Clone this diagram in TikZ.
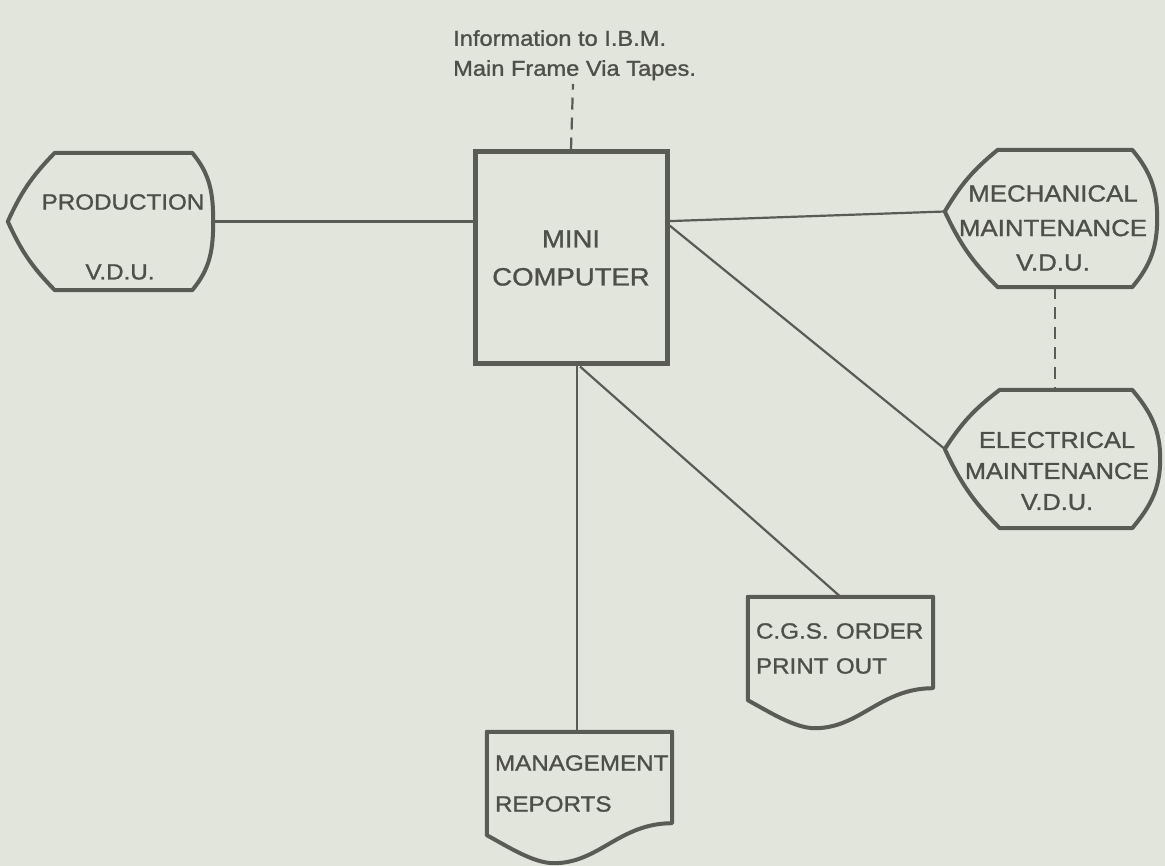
\documentclass[tikz,border=0pt]{standalone}
\usepackage{fontspec}
\setmainfont{Liberation Sans}[FakeStretch=1.1, FakeBold=1.2]
\usetikzlibrary{calc}

\definecolor{paper}{HTML}{E2E5DB}
\definecolor{ink}{HTML}{5A5B55}
\definecolor{letter}{HTML}{4E4F4A}

% Display-unit outline drawn around a frame node:
% #1 node, #2 left inset of the flat edges, #3 right inset, #4 lift of the left tip
\newcommand\vduoutline[4]{%
  \coordinate (#1-tip) at ([yshift=#4]#1.west);
  \draw[outline] ([xshift=#2]#1.north west) -- ([xshift=-#3]#1.north east)
    to[out=-50,in=90] (#1.east) to[out=-90,in=50] ([xshift=-#3]#1.south east)
    -- ([xshift=#2]#1.south west) to[bend left=10] (#1-tip)
    to[bend left=10] ([xshift=#2]#1.north west) -- cycle;}

% Printed-document outline with a wavy lower edge
\newcommand\docoutline[1]{%
  \draw[outline] (#1.south west) -- (#1.north west) -- (#1.north east)
    -- ([yshift=12pt]#1.south east)
    .. controls ([xshift=-53pt,yshift=12pt]#1.south east)
       and ([xshift=-73pt,yshift=-28pt]#1.south east)
    .. ([xshift=67pt,yshift=-28pt]#1.south west)
    .. controls ([xshift=47pt,yshift=-28pt]#1.south west)
       and ([xshift=22pt,yshift=-12pt]#1.south west)
    .. (#1.south west) -- cycle;}

\begin{document}
\begin{tikzpicture}[x=1pt,y=-1pt,
  outline/.style={draw=ink, line width=4pt, line join=round},
  wire/.style={draw=ink, line width=2.2pt},
  tapeline/.style={wire, dash pattern=on 12pt off 8pt},
  frame/.style={draw=none, rectangle, inner sep=0pt},
  caps/.style={text=letter, inner sep=0pt, align=center},
  doctext/.style={frame, text=letter, text width=169pt, align=left,
    minimum width=185pt, minimum height=103pt},
]
\fill[paper] (0,0) rectangle (1165,866);
\useasboundingbox (0,0) rectangle (1165,866);

% caption above the computer
\node[anchor=north west, inner sep=0pt, text=letter, align=left,
      font=\fontsize{21.5}{30}\selectfont] (info) at (453,30)
      {Information to I.B.M.\\Main Frame Via Tapes.};
\coordinate (tapeEnd) at (573,84);

% central computer
\node[draw=ink, line width=5pt, minimum width=192pt, minimum height=212pt,
      caps, font=\fontsize{25}{38}\selectfont] (mini) at (571,258)
      {MINI\\COMPUTER};

% display units
\node[frame, minimum width=205pt, minimum height=137pt] (prod) at (110.5,221.5) {};
\vduoutline{prod}{47pt}{21pt}{0pt}
\node[caps, font=\fontsize{22}{30}\selectfont] (prodtop) at (123,202) {PRODUCTION};
\node[caps, font=\fontsize{22}{30}\selectfont] (prodbot) at (120,272) {V.D.U.};

\node[frame, minimum width=212pt, minimum height=137pt] (mech) at (1051,218.5) {};
\vduoutline{mech}{53pt}{25pt}{7pt}
\node[caps, font=\fontsize{23.5}{34.5}\selectfont] (mechtxt) at (1053,228)
      {MECHANICAL\\MAINTENANCE\\V.D.U.};

\node[frame, minimum width=215pt, minimum height=138pt] (elec) at (1052.5,459) {};
\vduoutline{elec}{55pt}{28pt}{10pt}
\node[caps, font=\fontsize{23}{31}\selectfont] (electxt) at (1057,471)
      {ELECTRICAL\\MAINTENANCE\\V.D.U.};

% printed outputs
\node[doctext, font=\fontsize{22}{35}\selectfont] (cgs) at (840.5,648.5)
      {C.G.S. ORDER\\PRINT OUT};
\docoutline{cgs}
\node[doctext, font=\fontsize{22}{41}\selectfont] (mgmt) at (579.5,783.5)
      {MANAGEMENT\\REPORTS};
\docoutline{mgmt}

% connections
\draw[tapeline] (mini.north) -- (tapeEnd);
\draw[wire] (prod.east) -- (prod.east -| mini.west);
\draw[wire] ($(mini.north east)!0.33!(mini.south east)$) -- (mech-tip);
\draw[wire] ($(mini.north east)!0.35!(mini.south east)$) -- (elec-tip);
\draw[tapeline] ([xshift=4pt]mech.south) -- ([xshift=4pt]mech.south |- elec.north);
\draw[wire] ([xshift=9pt]mini.south) -- (cgs.north);
\draw[wire] ([xshift=6pt]mini.south) -- ([xshift=6pt]mini.south |- mgmt.north);
\end{tikzpicture}
\end{document}
